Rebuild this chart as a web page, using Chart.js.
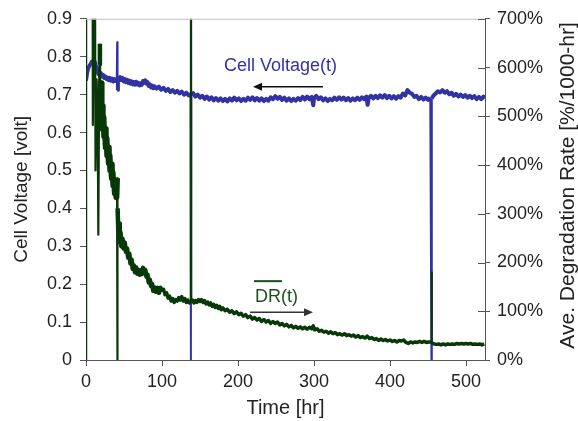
<!DOCTYPE html>
<html>
<head>
<meta charset="utf-8">
<script src="https://cdn.jsdelivr.net/npm/chart.js@4.4.1/dist/chart.umd.min.js"></script>
<style>
html,body{margin:0;padding:0;background:#fff;}
canvas{display:block;}
</style>
</head>
<body>
<canvas id="c" width="578" height="421"></canvas>
<script>
// ---- data ----
const voltTime = [0,1.5,3,4.5,6,7.5,9,10.5,12,13.5,15,16.5,18,19.5,21,22.5,24,25.5,27,28.5,30,31.5,33,34.5,36,37.5,39,40.5,41,41.5,42,43.5,45,46.5,48,49.5,51,52.5,54,55.5,57,58.5,60,61.5,63,64.5,66,67.5,69,70.5,72,73.5,75,76.5,78,79.5,81,82.5,84,85.5,87,88.5,
90,93,96,99,102,105,108,111,114,117,120,123,126,129,132,135,137.5,138,138.5,141,144,147,150,153,156,159,162,165,168,171,174,177,180,183,186,189,192,195,198,201,204,207,210,213,216,219,222,225,228,231,234,237,240,243,246,249,252,255,258,261,264,267,270,273,276,279,282,285,288,291,294,297,299,300,303,306,309,312,315,318,321,324,327,330,333,336,339,342,345,348,351,354,357,360,363,366,369,370.5,372,375,378,381,384,387,390,393,396,399,402,405,408,411,414,417,420,423,426,429,432,435,438,441,444,447,450,453,454.5,455,457,460,463,466,469,472,475,478,481,484,487,490,493,496,499,502,505,508,511,514,517,520,523,525];
const voltValue = [0.737,0.758,0.770,0.776,0.781,0.786,0.789,0.790,0.784,0.772,0.760,0.754,0.752,0.757,0.748,0.752,0.744,0.748,0.741,0.745,0.738,0.744,0.737,0.742,0.735,0.741,0.736,0.742,0.838,0.712,0.744,0.738,0.746,0.739,0.744,0.735,0.741,0.733,0.739,0.731,0.737,0.729,0.735,0.727,0.733,0.726,0.734,0.727,0.731,0.724,0.730,0.726,0.736,0.731,0.738,0.729,0.733,0.723,0.727,0.719,0.724,0.717,
0.722,0.716,0.721,0.713,0.718,0.710,0.715,0.707,0.712,0.705,0.710,0.703,0.708,0.700,0.705,0.698,0.702,0.0,0.700,0.704,0.695,0.700,0.692,0.697,0.689,0.695,0.687,0.693,0.685,0.691,0.684,0.690,0.683,0.689,0.682,0.690,0.684,0.692,0.685,0.690,0.683,0.689,0.684,0.692,0.686,0.693,0.685,0.691,0.684,0.690,0.683,0.689,0.684,0.693,0.688,0.696,0.689,0.694,0.686,0.692,0.684,0.690,0.683,0.689,0.684,0.691,0.686,0.694,0.687,0.695,0.688,0.694,0.672,0.690,0.697,0.688,0.693,0.685,0.690,0.683,0.689,0.685,0.692,0.686,0.693,0.687,0.692,0.685,0.691,0.684,0.690,0.685,0.692,0.686,0.693,0.688,0.695,0.673,0.691,0.697,0.690,0.697,0.691,0.698,0.692,0.699,0.691,0.697,0.690,0.696,0.689,0.696,0.692,0.703,0.698,0.712,0.705,0.702,0.694,0.697,0.688,0.694,0.687,0.692,0.686,0.692,0.0,0.690,0.697,0.703,0.709,0.706,0.712,0.705,0.709,0.701,0.705,0.697,0.702,0.695,0.700,0.694,0.699,0.692,0.697,0.691,0.696,0.688,0.694,0.688,0.695,0.690];

const drTime = [0,0.2,8.5,9,11.5,12.5,14,15.5,16.2,17.5,18.3,19,19.8,20.5,21.3,22,23,24,25,26,27,28,29,30,31,32,33,34,35,36,37,38,39,40,40.8,41.2,41.6,42.5,43.5,44.5,45.5,46.5,48,49.5,51,52.5,54,55.5,57,58.5,60,61.5,63,64.5,66,67.5,69,70.5,72,73.5,75,76.5,78,79.5,81,82.5,84,85.5,87,88.5,90,92,94,96,98,100,102,104,106,108,110,112,114,116,118,120,122,124,126,128,130,132,134,136,137.7,138.1,138.5,140,142,144,146,148,150,152,154,156,158,160,162,164,166,168,170,172,174,176,178,180,183,186,189,192,195,198,201,204,207,210,213,216,219,222,225,228,231,234,237,240,243,246,249,252,255,258,261,264,267,270,273,276,279,282,285,288,291,294,297,299,301,304,307,310,313,316,319,322,325,328,331,334,337,340,343,346,349,352,355,358,361,364,367,370,373,376,379,382,385,388,391,394,397,400,403,406,409,412,415,418,421,424,427,430,433,436,439,442,445,448,451,454,454.6,455.2,458,461,464,467,470,473,476,479,482,485,488,491,494,497,500,503,506,509,512,515,518,521,524];
const drValue = [0,1000,1000,482,1000,389,576,467,257,607,649,513,568,498,521,474,498,459,474,436,455,420,436,404,420,389,401,373,385,358,369,342,354,334,373,0,311,264,280,241,261,233,249,229,241,222,229,210,218,198,206,187,194,180,190,177,185,175,184,176,189,179,185,171,175,159,165,152,156,142,149,140,148,138,148,140,145,134,138,127,131,121,126,118,124,121,128,123,130,121,126,118,123,117,122,1000,118,123,117,122,118,124,120,124,118,122,115,119,113,117,110,114,108,112,106,110,103,107,101,104,98,101,95,99,93,96,90,93,87,90,84,87,82,85,79,83,78,81,75,79,75,78,72,75,70,73,68,71,66,69,65,68,64,67,63,67,64,70,62,64,59,61,57,59,55,58,54,56,52,54,51,54,50,52,49,51,47,50,46,48,45,49,44,46,42,44,40,43,40,42,39,41,38,40,37,40,39,41,36,34,37,35,37,36,38,36,38,36,37,37,180,35,33,32,33,31,33,31,33,32,33,32,34,33,34,33,34,33,34,32,33,32,33,31,33];

const voltTicks = ['0','0.1','0.2','0.3','0.4','0.5','0.6','0.7','0.8','0.9'];
const rateTicks = ['0%','100%','200%','300%','400%','500%','600%','700%'];
const timeTicks = ['0','100','200','300','400','500'];

const FONT = "'Liberation Sans', Arial, sans-serif";
const AXIS = '#555';
const TXT = '#222';
const BLUE = 'rgb(50,50,165)';
const GREEN = 'rgb(8,56,8)';

const voltPts = voltTime.map((t,i)=>({x:t,y:voltValue[i]}));
const drPts = drTime.map((t,i)=>({x:t,y:drValue[i]}));

function setTicks(labels){
  return function(s){ s.ticks = labels.map(l=>({value:parseFloat(l), label:l})); };
}

function drWidth(c){
  const dy = Math.abs(c.p1.parsed.y - c.p0.parsed.y);
  const t = c.p0.parsed.x;
  if (dy > 300) return 2.2;
  if (t >= 19 && t < 40.5) return 6;
  if (dy > 90) return 2.2;
  if (t < 100) return 4.5;
  return 3.5;
}

const decor = {
  id:'decor',
  afterDraw(chart){
    const ctx = chart.ctx, a = chart.chartArea;
    const xs = chart.scales.x, ys = chart.scales.y, yr = chart.scales.yr;
    ctx.save();
    // top border
    ctx.strokeStyle = '#c4c4c4'; ctx.lineWidth = 1;
    ctx.beginPath(); ctx.moveTo(a.left, a.top+0.5); ctx.lineTo(a.right, a.top+0.5); ctx.stroke();
    // inward ticks on right axis
    ctx.strokeStyle = AXIS;
    yr.ticks.forEach(tk=>{
      const py = Math.round(yr.getPixelForValue(tk.value))+0.5;
      ctx.beginPath(); ctx.moveTo(a.right-7, py); ctx.lineTo(a.right, py); ctx.stroke();
    });
    // right title, reading bottom to top
    ctx.fillStyle = TXT;
    ctx.font = "21px " + FONT;
    ctx.textAlign = 'center'; ctx.textBaseline = 'middle';
    ctx.save();
    ctx.translate(568, (a.top + a.bottom)/2 - 4);
    ctx.rotate(-Math.PI/2);
    ctx.fillText('Ave. Degradation Rate [%/1000-hr]', 0, 0);
    ctx.restore();

    // Cell Voltage annotation
    ctx.font = "18px " + FONT;
    ctx.fillStyle = BLUE;
    ctx.textAlign = 'left';
    ctx.fillText('Cell Voltage(t)', xs.getPixelForValue(181.6), ys.getPixelForValue(0.776));
    const ay = ys.getPixelForValue(0.721);
    const ax1 = xs.getPixelForValue(311.8), ax0 = xs.getPixelForValue(219.7);
    ctx.strokeStyle = '#111'; ctx.fillStyle = '#111'; ctx.lineWidth = 1.5;
    ctx.beginPath(); ctx.moveTo(ax1, ay); ctx.lineTo(ax0+6, ay); ctx.stroke();
    ctx.beginPath(); ctx.moveTo(ax0, ay); ctx.lineTo(ax0+9, ay-4); ctx.lineTo(ax0+9, ay+4); ctx.closePath(); ctx.fill();

    // DR annotation
    ctx.fillStyle = 'rgb(30,80,30)';
    const dx = xs.getPixelForValue(222.4), dy = ys.getPixelForValue(0.166);
    ctx.fillText('DR(t)', dx, dy);
    const drW = ctx.measureText('DR').width;
    ctx.fillRect(dx-1, ys.getPixelForValue(0.208)-1, drW+2, 2);
    const by = ys.getPixelForValue(0.126);
    const bx0 = xs.getPixelForValue(215.8), bx1 = xs.getPixelForValue(298.7);
    ctx.strokeStyle = '#333'; ctx.fillStyle = '#333'; ctx.lineWidth = 1.5;
    ctx.beginPath(); ctx.moveTo(bx0, by); ctx.lineTo(bx1-6, by); ctx.stroke();
    ctx.beginPath(); ctx.moveTo(bx1, by); ctx.lineTo(bx1-9, by-4); ctx.lineTo(bx1-9, by+4); ctx.closePath(); ctx.fill();
    ctx.restore();
  }
};

new Chart(document.getElementById('c'), {
  type:'line',
  data:{
    datasets:[
      {label:'DR', data:drPts, yAxisID:'yr', borderColor:GREEN, borderWidth:3.5, borderJoinStyle:'round', pointRadius:0, tension:0, order:0, clip:0,
        segment:{borderWidth:drWidth}},
      {label:'Cell Voltage', data:voltPts, yAxisID:'y', borderColor:BLUE, borderWidth:4, borderJoinStyle:'round', pointRadius:0, tension:0, order:1, clip:0,
        segment:{borderWidth:c=>Math.abs(c.p1.parsed.y-c.p0.parsed.y)>0.05 ? 2 : 4}}
    ]
  },
  options:{
    responsive:false,
    animation:false,
    devicePixelRatio:1,
    layout:{padding:{top:18,left:0,right:0,bottom:0}},
    plugins:{legend:{display:false}, tooltip:{enabled:false}},
    scales:{
      x:{
        type:'linear', position:'bottom', min:0, max:525,
        afterFit(s){ s.height = 61; },
        afterBuildTicks:setTicks(timeTicks),
        ticks:{color:TXT, font:{family:FONT,size:18}, padding:5, maxRotation:0, autoSkip:false,
          callback:(v,i)=>timeTicks[i]},
        grid:{drawOnChartArea:false, drawTicks:true, tickLength:6, color:AXIS},
        border:{display:true, color:AXIS, width:1},
        title:{display:true, text:'Time [hr]', color:TXT, font:{family:FONT,size:20}, padding:{top:0,bottom:1}}
      },
      y:{
        type:'linear', position:'left', min:0, max:0.9,
        afterFit(s){ s.width = 86; },
        afterBuildTicks:setTicks(voltTicks),
        ticks:{color:TXT, font:{family:FONT,size:18}, padding:8, autoSkip:false,
          callback:(v,i)=>voltTicks[i]},
        grid:{drawOnChartArea:false, drawTicks:true, tickLength:6, color:AXIS},
        border:{display:true, color:AXIS, width:1},
        title:{display:true, text:'Cell Voltage [volt]', color:TXT, font:{family:FONT,size:19}, padding:{top:10,bottom:0}}
      },
      yr:{
        type:'linear', position:'right', min:0, max:700,
        afterFit(s){ s.width = 93; },
        afterBuildTicks:setTicks(rateTicks),
        ticks:{color:TXT, font:{family:FONT,size:18}, padding:7, autoSkip:false,
          callback:(v,i)=>rateTicks[i]},
        grid:{drawOnChartArea:false, drawTicks:true, tickLength:5, color:AXIS},
        border:{display:true, color:AXIS, width:1},
        title:{display:false}
      }
    }
  },
  plugins:[decor]
});
</script>
</body>
</html>
